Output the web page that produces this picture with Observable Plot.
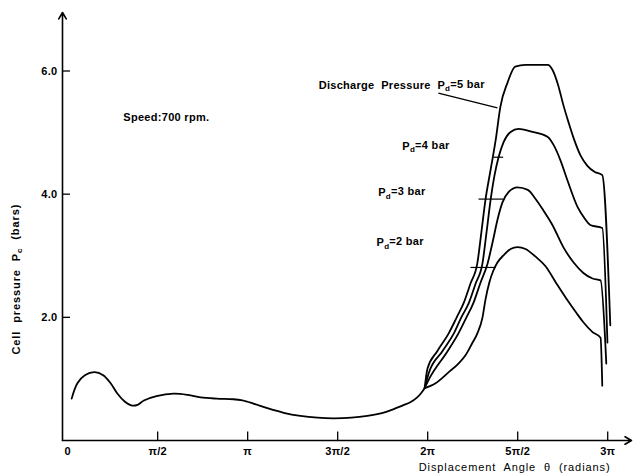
<!DOCTYPE html>
<html>
<head>
<meta charset="utf-8">
<script src="https://cdn.jsdelivr.net/npm/d3@7"></script>
<script src="https://cdn.jsdelivr.net/npm/@observablehq/plot@0.6"></script>
<style>
  html, body { margin: 0; padding: 0; background: #fff; }
  #chart svg { display: block; }
  #chart svg text { white-space: pre; }
</style>
</head>
<body>
<div id="chart"></div>
<script>
// ---- data (angle θ in radians, cell pressure in bar) ----
const PI = Math.PI;
const xTicks = [0, PI / 2, PI, 3 * PI / 2, 2 * PI, 5 * PI / 2, 3 * PI];
const xTickLabels = ["0", "π/2", "π", "3π/2", "2π", "5π/2", "3π"];
const yTicks = [2, 4, 6];
const yTickLabels = ["2.0", "4.0", "6.0"];

// common suction / transfer part (0 .. 2π)
const commonTheta = [0.07, 0.17, 0.30, 0.47, 0.62, 0.75, 0.87, 1.00, 1.11, 1.22, 1.33, 1.55, 1.85, 2.10, 2.32, 2.60, 2.89, 3.05, 3.24, 3.50, 3.77, 4.06, 4.36, 4.64, 4.95, 5.23, 5.50, 5.69, 5.85, 5.98, 6.10, 6.16, 6.23];
const commonP     = [0.68, 0.93, 1.06, 1.11, 1.06, 0.93, 0.76, 0.63, 0.57, 0.58, 0.65, 0.72, 0.76, 0.74, 0.70, 0.68, 0.67, 0.65, 0.60, 0.52, 0.45, 0.40, 0.37, 0.36, 0.37, 0.40, 0.45, 0.51, 0.57, 0.62, 0.70, 0.76, 0.85];

// compression / discharge branches
const theta5 = [6.23, 6.28, 6.45, 6.65, 6.79, 6.91, 7.03, 7.15, 7.22, 7.29, 7.38, 7.47, 7.55, 7.68, 7.81, 7.99, 8.38, 8.46, 8.56, 8.65, 8.74, 8.83, 8.95, 9.07, 9.20, 9.33, 9.47];
const p5     = [0.85, 1.17, 1.45, 1.74, 2.00, 2.23, 2.55, 2.88, 3.38, 3.90, 4.39, 4.88, 5.41, 5.82, 6.07, 6.10, 6.10, 6.02, 5.77, 5.45, 5.17, 4.91, 4.63, 4.46, 4.36, 4.31, 1.87];

const theta4 = [6.23, 6.30, 6.54, 6.74, 6.87, 7.00, 7.12, 7.24, 7.31, 7.38, 7.45, 7.52, 7.61, 7.73, 7.87, 8.08, 8.38, 8.48, 8.60, 8.72, 8.90, 9.02, 9.12, 9.33, 9.42];
const p4     = [0.85, 1.09, 1.45, 1.74, 2.00, 2.23, 2.55, 2.88, 3.38, 3.90, 4.31, 4.60, 4.85, 5.01, 5.06, 5.02, 4.93, 4.80, 4.55, 4.23, 3.79, 3.61, 3.50, 3.45, 1.59];

const theta3 = [6.23, 6.32, 6.63, 6.82, 6.96, 7.08, 7.20, 7.33, 7.43, 7.50, 7.59, 7.69, 7.85, 8.03, 8.16, 8.30, 8.46, 8.65, 8.83, 9.00, 9.16, 9.30, 9.40];
const p3     = [0.85, 1.02, 1.45, 1.74, 2.00, 2.23, 2.55, 2.88, 3.28, 3.58, 3.87, 4.03, 4.11, 4.07, 3.93, 3.74, 3.50, 3.14, 2.89, 2.72, 2.63, 2.60, 1.25];

const theta2 = [6.23, 6.42, 6.65, 6.82, 6.94, 7.06, 7.15, 7.24, 7.29, 7.36, 7.43, 7.50, 7.61, 7.73, 7.85, 7.99, 8.16, 8.34, 8.53, 8.72, 8.88, 9.00, 9.16, 9.30, 9.33];
const p2     = [0.85, 0.93, 1.11, 1.25, 1.38, 1.58, 1.74, 2.00, 2.28, 2.57, 2.76, 2.89, 3.01, 3.11, 3.14, 3.11, 2.99, 2.83, 2.55, 2.28, 2.07, 1.92, 1.76, 1.67, 0.89];

// annotations
const labelText = ["Discharge  Pressure  Pd=5 bar", "Pd=4 bar", "Pd=3 bar", "Pd=2 bar", "Speed:700 rpm."];
const labelTheta = [4.38, 5.84, 5.42, 5.39, 0.97];
const labelP = [5.77, 4.78, 4.02, 3.22, 5.25];
// pointer strokes from labels to curves
const ptrTheta1 = [6.47, 7.43, 7.17, 7.03];
const ptrP1     = [5.64, 4.60, 3.92, 2.81];
const ptrTheta2 = [7.50, 7.60, 7.60, 7.47];
const ptrP2     = [5.40, 4.60, 3.92, 2.81];

const xTitle = "Displacement  Angle  θ  (radians)";
const yTitle = "Cell  pressure  Pc  (bars)";

// ---- build tables ----
const toRows = (t, p, s) => t.map((d, i) => ({theta: d, p: p[i], s}));
const common = toRows(commonTheta, commonP, "common");
const branches = [
  ...toRows(theta5, p5, "5"),
  ...toRows(theta4, p4, "4"),
  ...toRows(theta3, p3, "3"),
  ...toRows(theta2, p2, "2")
];
const labels = labelText.map((t, i) => ({t, x: labelTheta[i], y: labelP[i]}));
const pointers = ptrTheta1.map((d, i) => ({x1: d, y1: ptrP1[i], x2: ptrTheta2[i], y2: ptrP2[i]}));

const xDomain = [-0.09, 9.84];
const yDomain = [0, 6.95];
const tickLen = 0.14;

const chart = Plot.plot({
  width: 634,
  height: 474,
  marginLeft: 62,
  marginRight: 3,
  marginTop: 12,
  marginBottom: 34,
  style: {fontFamily: "'Liberation Sans', Arial, sans-serif", fontWeight: "bold", background: "#fff", color: "#000"},
  x: {domain: xDomain, axis: null},
  y: {domain: yDomain, axis: null},
  marks: [
    // axes with arrowheads
    Plot.arrow([0], {x1: xDomain[0], y1: 0, x2: xDomain[1], y2: 0, stroke: "#000", strokeWidth: 1.6, headLength: 7}),
    Plot.arrow([0], {x1: xDomain[0], y1: 0, x2: xDomain[0], y2: yDomain[1], stroke: "#000", strokeWidth: 1.6, headLength: 7}),
    // inward ticks
    Plot.ruleX(xTicks.slice(1), {y1: 0, y2: tickLen, stroke: "#000", strokeWidth: 1.3}),
    Plot.ruleY(yTicks, {x1: xDomain[0], x2: xDomain[0] + tickLen, stroke: "#000", strokeWidth: 1.3}),
    Plot.axisX({ticks: xTicks, tickFormat: d => xTickLabels[xTicks.indexOf(d)], tickSize: 0, tickPadding: 7, fontSize: 11}),
    Plot.axisY({ticks: yTicks, tickFormat: d => yTickLabels[yTicks.indexOf(d)], tickSize: 0, tickPadding: 5, fontSize: 11}),
    // curves
    Plot.line(common, {x: "theta", y: "p", stroke: "#000", strokeWidth: 1.8, curve: "catmull-rom"}),
    Plot.line(branches, {x: "theta", y: "p", z: "s", stroke: "#000", strokeWidth: 1.8, curve: "monotone-x"}),
    // pointers
    Plot.link(pointers, {x1: "x1", y1: "y1", x2: "x2", y2: "y2", stroke: "#000", strokeWidth: 1.2}),
    // labels
    Plot.text(labels, {x: "x", y: "y", text: "t", textAnchor: "start", fontSize: 11, fontWeight: "bold"}),
    // axis titles
    Plot.text([xTitle], {x: 7.80, y: -0.44, text: d => d, fontSize: 11, fontWeight: "normal", className: "xtitle"}),
    Plot.text([yTitle], {x: -0.90, y: 2.62, text: d => d, rotate: -90, fontSize: 11, fontWeight: "bold", className: "ytitle"})
  ]
});

// subscripts (Pd, Pc)
d3.select(chart).selectAll("text").each(function () {
  const el = d3.select(this);
  const txt = el.text();
  const m = txt.match(/^(.*?)P([dc])(.*)$/);
  if (m && el.selectAll("tspan").empty()) {
    el.text(null);
    el.append("tspan").text(m[1] + "P");
    el.append("tspan").attr("dy", "0.35em").attr("font-size", "8").text(m[2]);
    el.append("tspan").attr("dy", "-0.35em").text(m[3]);
  }
});
d3.select(chart).selectAll("text").style("letter-spacing", "0.3px");
d3.select(chart).selectAll(".xtitle text").style("letter-spacing", "0.9px");
d3.select(chart).selectAll(".ytitle text").style("letter-spacing", "0.9px");

document.getElementById("chart").appendChild(chart);
</script>
</body>
</html>
